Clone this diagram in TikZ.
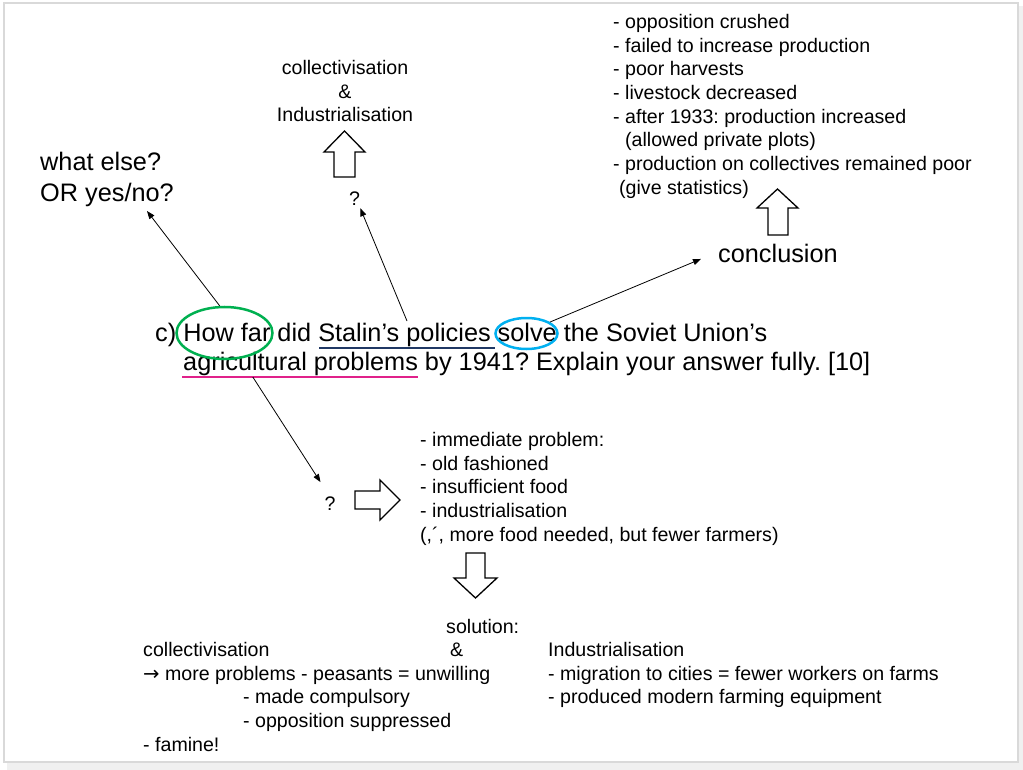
\documentclass[tikz,border=0pt]{standalone}
\usepackage{fontspec}
\setmainfont{Liberation Sans}
\newfontfamily\arrowfont{DejaVu Sans}
\frenchspacing
\usetikzlibrary{shapes.geometric,arrows.meta}
\definecolor{ringgreen}{HTML}{00B050}
\definecolor{ringblue}{HTML}{00B0F0}
\definecolor{linenavy}{HTML}{203864}
\definecolor{linepink}{HTML}{E0218A}

\begin{document}
\begin{tikzpicture}[x=1pt,y=-1pt,
		small/.style={font=\fontsize{19.6}{23.7}\selectfont,inner sep=0pt,align=left},
		big/.style={font=\fontsize{25.3}{31}\selectfont,inner sep=0pt,align=left},
		ptr/.style={line width=0.8pt,-{Triangle[length=8pt,width=6pt]}},
		blockarrow/.style={draw,line width=1.3pt,fill=white,line join=miter},
		ring/.style={ellipse,draw,line width=2.5pt,inner sep=0pt}]
		\useasboundingbox (0,0) rectangle (1023,770);
		\fill[gray!12] (7,6) rectangle (1023,770);
		\draw[gray!30,fill=white,line width=1.5pt] (4,3) rectangle (1018,762);
		\node[big,anchor=base west] (q1) at (155,341) {c) How far did Stalin's policies solve the Soviet Union's};
		\node[big,anchor=base west] (q2) at (183,370) {agricultural problems by 1941? Explain your answer fully. [10]};
		\node[ring,draw=ringgreen,minimum width=96pt,minimum height=52pt] (howfar) at (224.5,333) {};
		\node[ring,draw=ringblue,minimum width=62pt,minimum height=31pt] (solve) at (526.5,333.5) {};
		\draw[linenavy,line width=2pt] (319,348) -- (495,348);
		\draw[linepink,line width=2pt] (182,377) -- coordinate[pos=0.3] (agri) (418,377);
		\coordinate (policies) at (407,321);
		\node[big,anchor=north west] (whatelse) at (40,152) {what else?\\OR yes/no?};
		\node[small,anchor=base west] (qmark1) at (349,206) {?};
		\node[small,align=center,anchor=north] (methods) at (345,60) {collectivisation\\\&\\Industrialisation};
		\node[small,anchor=north west] (results) at (613,14) {- opposition crushed\\- failed to increase production\\- poor harvests\\- livestock decreased\\- after 1933: production increased\\\hspace*{12pt}(allowed private plots)\\- production on collectives remained poor\\\hspace*{6pt}(give statistics)};
		\node[big,anchor=base west] (conclusion) at (718,262) {conclusion};
		\node[small,anchor=base west] (qmark2) at (324.5,510) {?};
		\node[small,anchor=north west] (problems) at (420,432) {- immediate problem:\\- old fashioned\\- insufficient food\\- industrialisation\\(,´, more food needed, but fewer farmers)};
		\node[small,anchor=base west] (solution) at (446,633) {solution:};
		\node[small,anchor=base west] (amp) at (450,656) {\&};
		\node[small,anchor=north west] (collect) at (143,642) {collectivisation\\{\arrowfont →} more problems - peasants = unwilling\\\hspace*{100pt}- made compulsory\\\hspace*{100pt}- opposition suppressed\\- famine!};
		\node[small,anchor=north west] (industry) at (548,642) {Industrialisation\\- migration to cities = fewer workers on farms\\- produced modern farming equipment};
		\draw[ptr] (howfar.100) -- ([shift={(40pt,-4pt)}]whatelse.south);
		\draw[ptr] (policies) -- ([shift={(0pt,-2pt)}]qmark1.south east);
		\draw[ptr] (solve.26) -- ([shift={(-17pt,-6pt)}]conclusion.west);
		\draw[ptr] (agri) -- ([shift={(-4pt,14pt)}]qmark2.north west);
		\draw[blockarrow] (334,177) -- (334,152) -- (324,152) -- (344.5,131) -- (365,152) -- (355,152) -- (355,177) -- cycle;
		\draw[blockarrow] (768,235) -- (768,208) -- (757,208) -- (777.5,189) -- (798,208) -- (788,208) -- (788,235) -- cycle;
		\draw[blockarrow] (355,491) -- (380,491) -- (380,480) -- (400,500) -- (380,520) -- (380,509) -- (355,509) -- cycle;
		\draw[blockarrow] (466,553) -- (485,553) -- (485,578) -- (497,578) -- (475.5,598) -- (454,578) -- (466,578) -- cycle;
	\end{tikzpicture}
\end{document}
